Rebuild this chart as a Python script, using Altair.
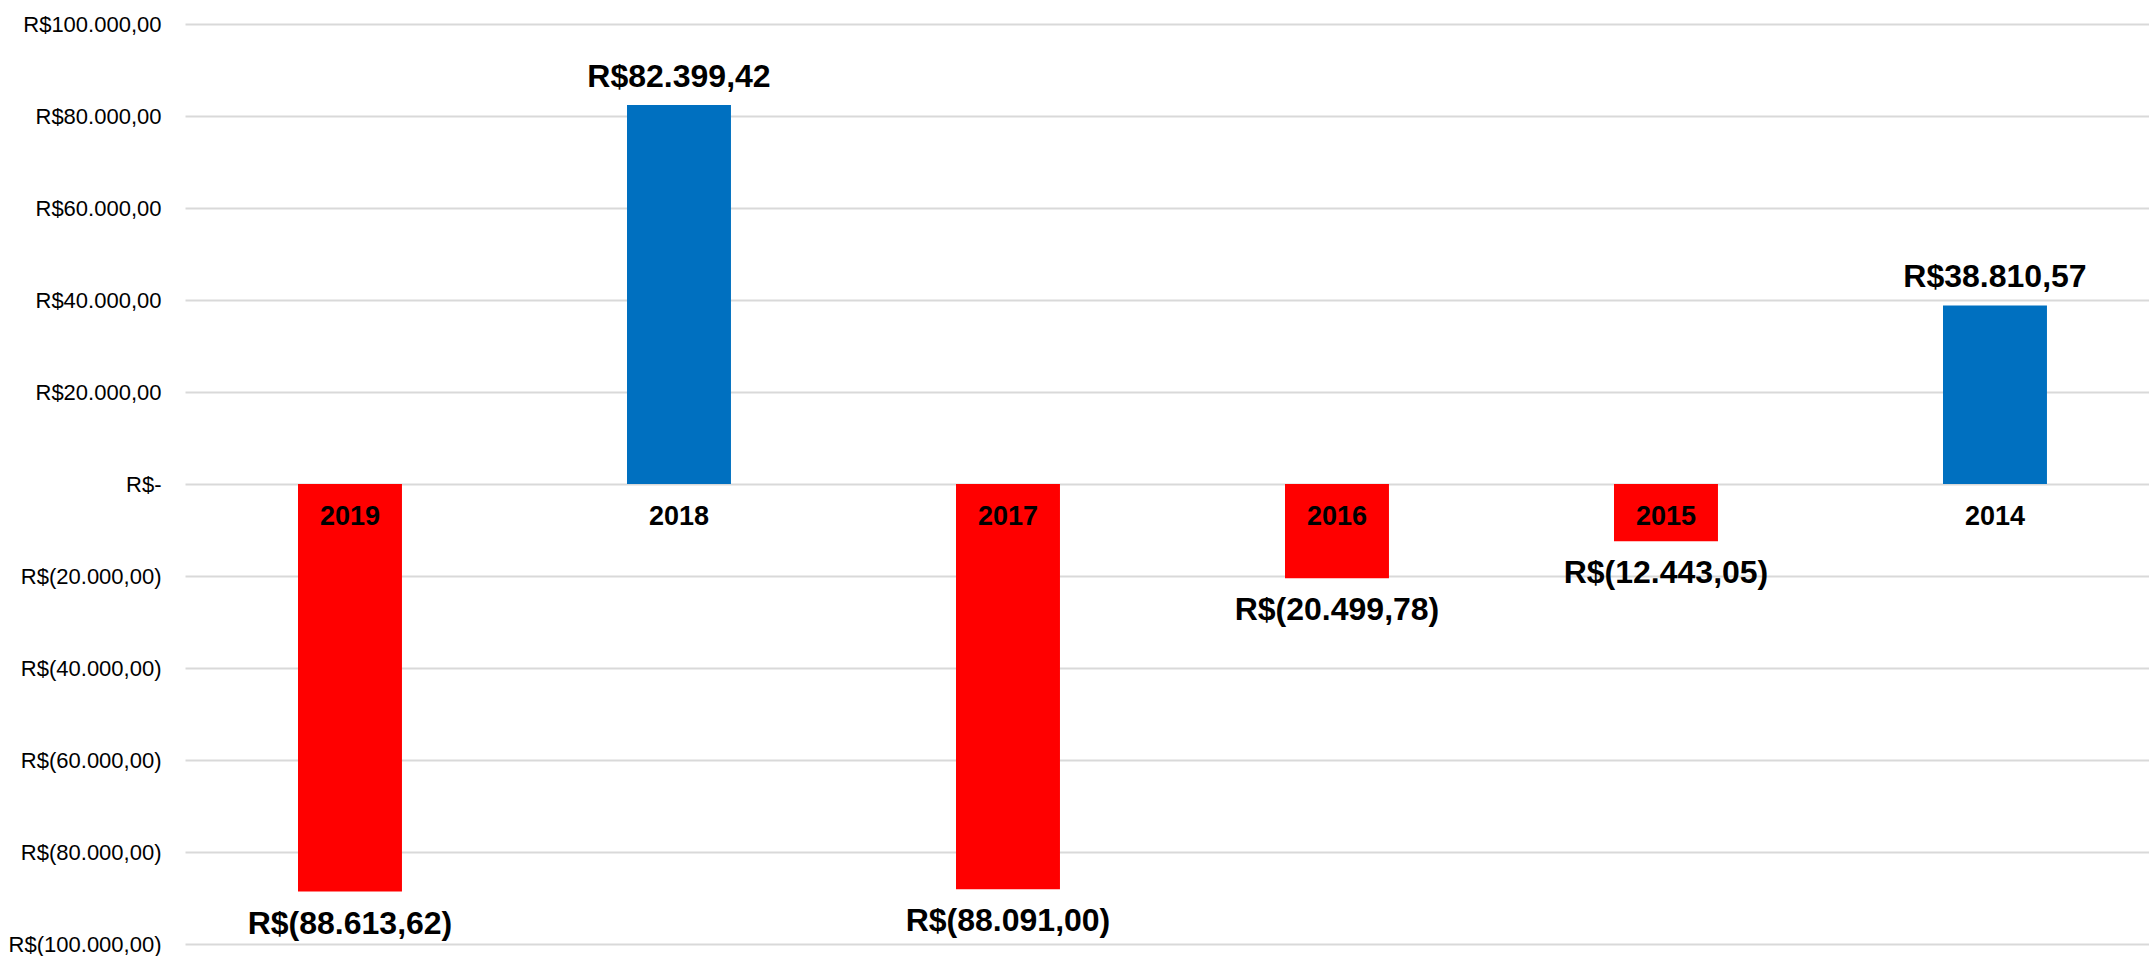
import altair as alt
import pandas as pd

years = ["2019", "2018", "2017", "2016", "2015", "2014"]
values = [-88613.62, 82399.42, -88091.00, -20499.78, -12443.05, 38810.57]
y_ticks = [-100000, -80000, -60000, -40000, -20000, 0, 20000, 40000, 60000, 80000, 100000]


def brl(v):
    s = f"{abs(v):,.2f}".replace(",", "X").replace(".", ",").replace("X", ".")
    return f"R$({s})" if v < 0 else f"R${s}"


df = pd.DataFrame({
    "year": years,
    "value": values,
    "label": [brl(v) for v in values],
    "sign": ["neg" if v < 0 else "pos" for v in values],
    "zero": [0] * len(years),
})

x_enc = alt.X(
    "year:N",
    sort=None,
    axis=None,
    scale=alt.Scale(paddingInner=0.684, paddingOuter=0.3268, align=0.5255),
)

y_scale = alt.Scale(domain=[-100000, 100000], nice=False, zero=True)

label_expr = (
    "datum.value == 0 ? 'R$-\u00a0\u00a0' : "
    "(datum.value < 0 ? 'R$(' + format(abs(datum.value)/1000, 'd') + '.000,00)' : "
    "'R$' + format(datum.value/1000, 'd') + '.000,00\u00a0')"
)

bars = alt.Chart(df).mark_bar().encode(
    x=x_enc,
    y=alt.Y(
        "value:Q",
        scale=y_scale,
        axis=alt.Axis(
            values=y_ticks,
            labelExpr=label_expr,
            title=None,
            domain=False,
            ticks=False,
            grid=True,
            gridColor="#d9d9d9",
            gridWidth=2,
            labelFont="Liberation Sans",
            labelFontSize=22,
            labelColor="#000000",
            labelPadding=24,
            labelAlign="right",
            labelBaseline="middle",
        ),
    ),
    y2=alt.Y2("zero:Q"),
    color=alt.Color(
        "sign:N",
        scale=alt.Scale(domain=["neg", "pos"], range=["#FF0000", "#0070C0"]),
        legend=None,
    ),
)

pos_labels = alt.Chart(df).transform_filter("datum.value >= 0").mark_text(
    font="Liberation Sans", fontWeight="bold", fontSize=32, color="#000000",
    baseline="alphabetic", align="center", dy=-18,
).encode(x=x_enc, y=alt.Y("value:Q", scale=y_scale), text="label:N")

neg_labels = alt.Chart(df).transform_filter("datum.value < 0").mark_text(
    font="Liberation Sans", fontWeight="bold", fontSize=32, color="#000000",
    baseline="alphabetic", align="center", dy=42,
).encode(x=x_enc, y=alt.Y("value:Q", scale=y_scale), text="label:N")

cat_labels = alt.Chart(df).mark_text(
    font="Liberation Sans", fontWeight="bold", fontSize=27, color="#000000",
    baseline="alphabetic", align="center", dy=41,
).encode(x=x_enc, y=alt.Y("zero:Q", scale=y_scale), text="year:N")

chart = (
    alt.layer(bars, pos_labels, neg_labels, cat_labels)
    .properties(
        width=1964,
        height=920,
        autosize=alt.AutoSizeParams(type="none"),
        padding={"left": 185, "top": 24, "right": 0, "bottom": 12},
        background="#ffffff",
    )
    .configure_view(stroke=None)
)

chart.save("out.html", embed_options={"renderer": "svg", "actions": False})
